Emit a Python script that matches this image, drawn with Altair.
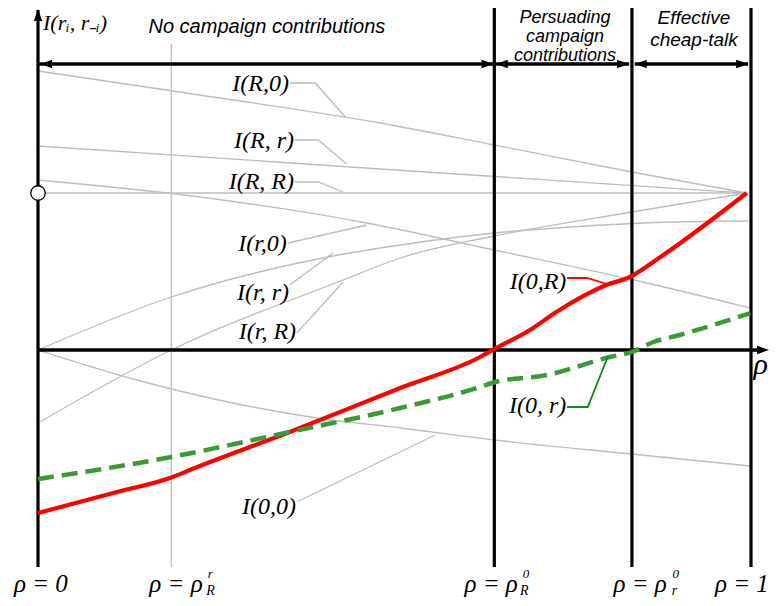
import altair as alt
import pandas as pd

# ---- key thresholds on the rho axis ----
rho_R_r = 0.187
rho_R_0 = 0.640
rho_r_0 = 0.833

# ---- payoff curves (rho, I) ----
IR0_rho = [0, 0.227, 0.480, 0.640, 0.833, 0.994]
IR0_val = [2.79, 2.55, 2.27, 2.05, 1.78, 1.57]
IRr_rho = [0, 0.48, 0.994]
IRr_val = [2.04, 1.81, 1.57]
IRR_rho = [0, 0.994]
IRR_val = [1.57, 1.57]
Ir0_rho = [0, 0.227, 0.461, 0.640, 0.830, 0.999]
Ir0_val = [1.70, 1.53, 1.27, 1.00, 0.71, 0.42]
Irr_rho = [0, 0.187, 0.414, 0.508, 0.640, 0.746, 0.891, 0.996]
Irr_val = [0, 0.53, 0.94, 1.05, 1.17, 1.23, 1.28, 1.29]
IrR_rho = [0, 0.187, 0.428, 0.508, 0.640, 0.833, 0.994]
IrR_val = [-0.73, 0, 0.70, 0.92, 1.14, 1.38, 1.57]
I00_rho = [0, 0.139, 0.273, 0.391, 0.508, 0.640, 0.832, 0.999]
I00_val = [0, -0.30, -0.53, -0.68, -0.78, -0.90, -1.04, -1.16]
I0R_rho = [0, 0.111, 0.189, 0.213, 0.353, 0.508, 0.620, 0.640, 0.690, 0.727, 0.797, 0.830, 0.873, 0.994]
I0R_val = [-1.63, -1.42, -1.27, -1.20, -0.82, -0.38, -0.07, 0.01, 0.20, 0.38, 0.65, 0.73, 0.93, 1.57]
I0r_rho = [0, 0.187, 0.353, 0.508, 0.620, 0.641, 0.714, 0.802, 0.833, 0.863, 0.900, 0.999]
I0r_val = [-1.29, -1.07, -0.82, -0.58, -0.37, -0.32, -0.25, -0.07, -0.02, 0.08, 0.15, 0.37]

# ---- curve labels and their leader lines ----
gray_labels = ["I(R,0)", "I(R, r)", "I(R, R)", "I(r,0)", "I(r, r)", "I(r, R)", "I(0,0)"]
gray_label_rho = [0.352, 0.359, 0.359, 0.349, 0.352, 0.362, 0.362]
gray_label_I = [2.66, 2.09, 1.68, 1.06, 0.57, 0.18, -1.57]
gray_leaders = [
    ([0.353, 0.389, 0.431], [2.67, 2.67, 2.33]),
    ([0.360, 0.393, 0.433], [2.10, 2.10, 1.86]),
    ([0.360, 0.393, 0.428], [1.68, 1.68, 1.58]),
    ([0.351, 0.461], [1.07, 1.25]),
    ([0.353, 0.414], [0.65, 0.97]),
    ([0.363, 0.428], [0.17, 0.68]),
    ([0.363, 0.557], [-1.52, -0.85]),
]
red_label = "I(0,R)"
red_label_pos = (0.741, 0.68)
red_leader = ([0.742, 0.770, 0.798], [0.72, 0.72, 0.66])
green_label = "I(0, r)"
green_label_pos = (0.741, -0.56)
green_leader = ([0.742, 0.771, 0.799], [-0.57, -0.57, -0.07])

# ---- region headings ----
regions = ["No campaign contributions", "Persuading", "campaign", "contributions", "Effective", "cheap-talk"]
region_rho = [0.321, 0.739, 0.739, 0.739, 0.920, 0.920]
region_I = [3.17, 3.27, 3.08, 2.89, 3.26, 3.04]
arrow_I = 2.86

# ---- bottom tick labels ----
tick_main = ["ρ = 0", "ρ = ρ", "ρ = ρ", "ρ = ρ", "ρ = 1"]
tick_main_rho = [0.004, 0.231, 0.673, 0.882, 1.025]
tick_align = ["center", "right", "right", "right", "right"]
tick_sup = ["r", "0", "0"]
tick_sup_rho = [0.238, 0.680, 0.890]
tick_sub = ["R", "R", "r"]
tick_sub_rho = [0.236, 0.676, 0.889]

xs = alt.Scale(domain=[-30 / 713, 732 / 713], nice=False, zero=False)
ys = alt.Scale(domain=[-2.48, 3.42], nice=False, zero=False)
X = alt.X("x:Q", scale=xs, axis=None)
Y = alt.Y("y:Q", scale=ys, axis=None)


def curve_df(pairs):
    rows = []
    for g, (r, v) in enumerate(pairs):
        for k, (a, b) in enumerate(zip(r, v)):
            rows.append({"x": a, "y": b, "g": g, "k": k})
    return pd.DataFrame(rows)


def lines(df, **mk):
    return alt.Chart(df).mark_line(**mk).encode(x=X, y=Y, detail="g:N", order="k:Q")


def texts(xv, yv, tv, **mk):
    df = pd.DataFrame({"x": xv, "y": yv, "t": tv})
    return alt.Chart(df).mark_text(**mk).encode(x=X, y=Y, text="t:N")


layers = []

# gray vertical line at rho_R^r
layers.append(alt.Chart(pd.DataFrame({"x": [rho_R_r], "y": [-2.17], "y2": [3.06]})).mark_rule(
    color="#c4c4c4", strokeWidth=1.5).encode(x=X, y=Y, y2="y2:Q"))

gray = curve_df([(IR0_rho, IR0_val), (IRr_rho, IRr_val), (IRR_rho, IRR_val), (Ir0_rho, Ir0_val),
                 (Irr_rho, Irr_val), (IrR_rho, IrR_val), (I00_rho, I00_val)])
layers.append(lines(gray, color="#bdbdbd", strokeWidth=1.3, interpolate="monotone"))
layers.append(lines(curve_df(gray_leaders), color="#bdbdbd", strokeWidth=1.3))

# black frame lines
vert = pd.DataFrame({"x": [0, rho_R_0, rho_r_0, 1.0], "y": [-2.17] * 4, "y2": [3.40, 3.47, 3.47, 3.47]})
layers.append(alt.Chart(vert).mark_rule(color="black", strokeWidth=3.2).encode(x=X, y=Y, y2="y2:Q"))
hor = pd.DataFrame({"x": [0, 0, rho_R_0 + 0.002, 0.837], "x2": [1.018, rho_R_0, rho_r_0 - 0.004, 0.996],
                    "y": [0, arrow_I, arrow_I, arrow_I]})
layers.append(alt.Chart(hor).mark_rule(color="black", strokeWidth=3.3).encode(x=X, x2="x2:Q", y=Y))

# red and green curves
layers.append(lines(curve_df([(I0R_rho, I0R_val)]), color="#ff0000", strokeWidth=4.2, interpolate="monotone"))
layers.append(lines(curve_df([(I0r_rho, I0r_val)]), color="#3a9a35", strokeWidth=4.5, strokeDash=[16, 8],
                    interpolate="monotone"))
layers.append(lines(curve_df([red_leader]), color="#ff0000", strokeWidth=1.8))
layers.append(lines(curve_df([green_leader]), color="#118811", strokeWidth=1.8))

# open circle on the axis
layers.append(alt.Chart(pd.DataFrame({"x": [0], "y": [IRR_val[0]]})).mark_point(
    shape="circle", size=210, fill="white", stroke="black", strokeWidth=1.3, opacity=1, fillOpacity=1).encode(x=X, y=Y))

# arrowheads
right = pd.DataFrame({"x": [1.0253, rho_R_0 - 0.001, rho_r_0 - 0.004, 0.996], "y": [0, arrow_I, arrow_I, arrow_I]})
left = pd.DataFrame({"x": [0.003, rho_R_0 + 0.002, 0.837], "y": [arrow_I] * 3})
up = pd.DataFrame({"x": [0], "y": [3.41]})
for df, shp in [(right, "M0,0L-2,-0.7L-2,0.7Z"), (left, "M0,0L2,-0.7L2,0.7Z"), (up, "M0,0L-0.7,2L0.7,2Z")]:
    layers.append(alt.Chart(df).mark_point(shape=shp, size=144, filled=True, color="black", opacity=1,
                                           strokeWidth=0).encode(x=X, y=Y))

serif = "Liberation Serif"
sans = "Liberation Sans"
layers.append(texts(gray_label_rho, gray_label_I, gray_labels, font=serif, fontStyle="italic", fontSize=24,
                    align="right", baseline="middle", color="black"))
layers.append(texts([red_label_pos[0], green_label_pos[0]], [red_label_pos[1], green_label_pos[1]],
                    [red_label, green_label], font=serif, fontStyle="italic", fontSize=24,
                    align="right", baseline="middle", color="black"))
layers.append(texts([0.007], [3.27], ["I(rᵢ, r₋ᵢ)"], font=serif, fontStyle="italic", fontSize=22,
                    align="left", baseline="middle", color="black"))
layers.append(texts(region_rho[:1], region_I[:1], regions[:1], font=sans, fontStyle="italic", fontSize=20,
                    align="center", baseline="alphabetic", color="black"))
layers.append(texts(region_rho[1:4], region_I[1:4], regions[1:4], font=sans, fontStyle="italic", fontSize=18,
                    align="center", baseline="alphabetic", color="black"))
layers.append(texts(region_rho[4:], region_I[4:], regions[4:], font=sans, fontStyle="italic", fontSize=19,
                    align="center", baseline="alphabetic", color="black"))
for i in range(len(tick_main)):
    layers.append(texts([tick_main_rho[i]], [-2.42], [tick_main[i]], font=serif, fontStyle="italic",
                        fontSize=25, align=tick_align[i], baseline="alphabetic", color="black"))
layers.append(texts(tick_sup_rho, [-2.28] * 3, tick_sup, font=serif, fontStyle="italic", fontSize=13,
                    align="left", baseline="alphabetic", color="black"))
layers.append(texts(tick_sub_rho, [-2.45] * 3, tick_sub, font=serif, fontStyle="italic", fontSize=14,
                    align="left", baseline="alphabetic", color="black"))
layers.append(texts([1.0135], [-0.15], ["ρ"], font=serif, fontStyle="italic", fontSize=30,
                    align="center", baseline="middle", color="black"))

chart = alt.layer(*layers).properties(width=762, height=590, padding=0, autosize="none").configure_view(
    stroke=None)
chart.save("out.html", embed_options={"renderer": "svg", "actions": False})
